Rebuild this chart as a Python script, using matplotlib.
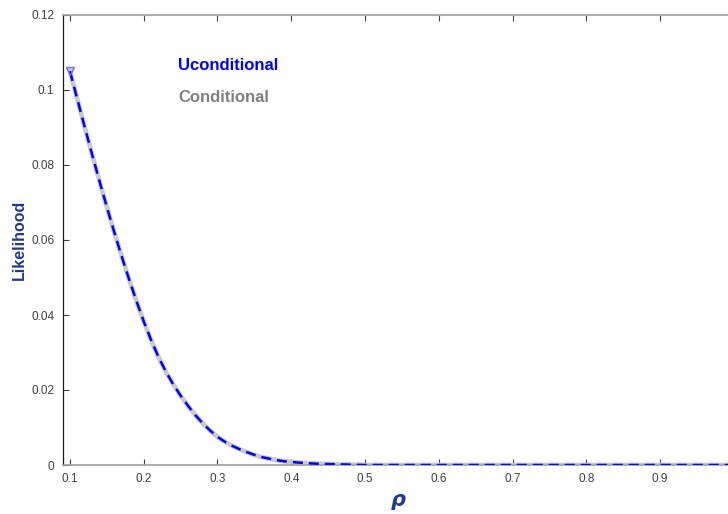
import numpy as np
import matplotlib.pyplot as plt

# values
rho = [0.10, 0.11, 0.12, 0.13, 0.14, 0.15, 0.16, 0.17, 0.18, 0.19,
       0.20, 0.21, 0.22, 0.23, 0.24, 0.25, 0.26, 0.27, 0.28, 0.29,
       0.30, 0.31, 0.32, 0.33, 0.34, 0.35, 0.36, 0.37, 0.38, 0.39,
       0.40, 0.42, 0.44, 0.46, 0.48, 0.50, 0.60, 0.70, 0.80, 0.90, 1.00]
unconditional = [0.1050, 0.0975, 0.0901, 0.0828, 0.0757, 0.0688, 0.0621, 0.0557, 0.0496, 0.0438,
                 0.0383, 0.0333, 0.0288, 0.0249, 0.0215, 0.0185, 0.0158, 0.0133, 0.0111, 0.0092,
                 0.0075, 0.0062, 0.0051, 0.0042, 0.0034, 0.0027, 0.0021, 0.0017, 0.0013, 0.0010,
                 0.0008, 0.0005, 0.0003, 0.0002, 0.0001, 0.0, 0.0, 0.0, 0.0, 0.0, 0.0]
conditional = list(unconditional)

xticks = [0.1, 0.2, 0.3, 0.4, 0.5, 0.6, 0.7, 0.8, 0.9]
yticks = [0, 0.02, 0.04, 0.06, 0.08, 0.1, 0.12]
ytick_labels = ['0', '0.02', '0.04', '0.06', '0.08', '0.1', '0.12']

plt.rcParams['font.family'] = ['Liberation Sans', 'DejaVu Sans']

fig = plt.figure(figsize=(7.28, 5.14), dpi=100)
ax = fig.add_axes([62.6 / 728, 49 / 514, 671.2 / 728, 450 / 514])

ax.plot(rho, conditional, color='#cacaca', lw=3.4, marker='v', markevery=[0],
        markersize=6, markerfacecolor='#c4c4c4', markeredgecolor='#c4c4c4', zorder=2)
ax.plot(rho, unconditional, color='#0000ff', lw=1.8, ls=(0, (4, 2.4)), marker='v', markevery=[0],
        markersize=6, markerfacecolor='none', markeredgecolor='#6f6fff', markeredgewidth=0.9, zorder=3)

ax.text(0.2464, 0.1064, 'Uconditional', color='#0000ff', fontsize=12, fontweight='bold', va='center')
ax.text(0.2464, 0.0981, 'Conditional', color='#808080', fontsize=12, fontweight='bold', va='center')

ax.set_xlim(0.09, 1.0)
ax.set_ylim(0, 0.12)
ax.set_xticks(xticks)
ax.set_yticks(yticks)
ax.set_yticklabels(ytick_labels)
ax.tick_params(direction='in', top=True, right=True, length=4, width=0.8,
               labelsize=8.5, labelcolor='#404040', color='#404040', pad=6)

for side in ['top', 'bottom']:
    ax.spines[side].set_color('#a0a0a0')
    ax.spines[side].set_linewidth(1.2)
ax.spines['left'].set_color('#202020')
ax.spines['left'].set_linewidth(0.9)
ax.spines['right'].set_color('#a0a0a0')

ax.set_ylabel('Likelihood', color='#1f3a8f', fontsize=11.5, fontweight='bold', labelpad=3)
ax.set_xlabel('ρ', color='#1f3a8f', fontsize=15, fontweight='bold', fontstyle='italic',
              family=['DejaVu Sans'], labelpad=3)

fig.savefig('out.png', dpi=100)
